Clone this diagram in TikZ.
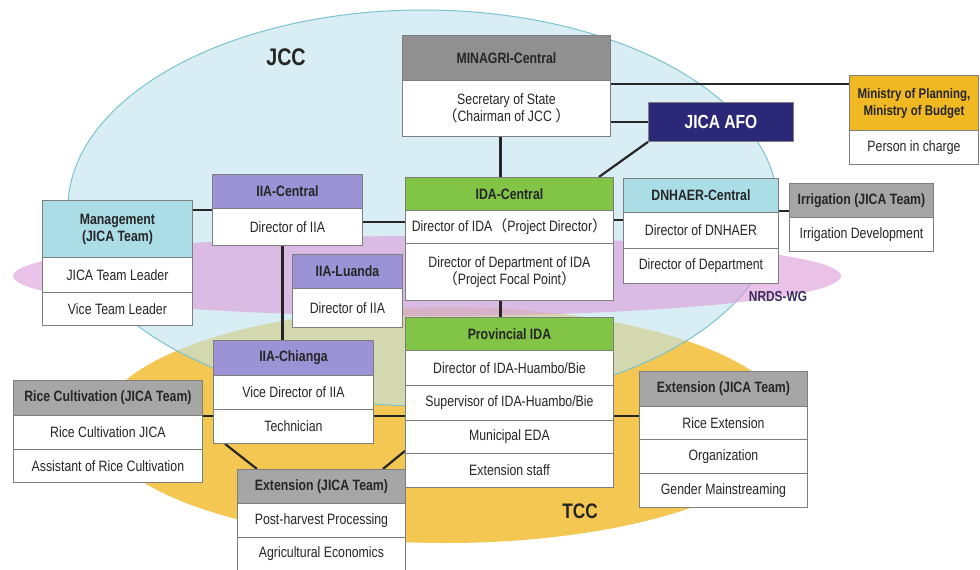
\documentclass[tikz,border=0pt]{standalone}
\usepackage{fontspec}
\setmainfont{Liberation Sans}
\newfontfamily\nf{Liberation Sans}[FakeStretch=0.82]
\newfontfamily\cjk{Noto Sans CJK SC}
\newcommand\fw[1]{{\cjk #1}}
\usetikzlibrary{calc}
\definecolor{boxline}{HTML}{7E7E7E}
\definecolor{txt}{HTML}{262626}
\definecolor{hgray}{HTML}{A6A6A6}
\definecolor{hdark}{HTML}{909090}
\definecolor{hgreen}{HTML}{82C446}
\definecolor{hpurple}{HTML}{9C92D6}
\definecolor{hcyan}{HTML}{ABDDE7}
\definecolor{hgold}{HTML}{F0B823}
\definecolor{navy}{HTML}{2B2878}
\definecolor{ellblue}{HTML}{BFE4EE}
\definecolor{ellblueedge}{HTML}{7CC3CF}
\definecolor{ellyellow}{HTML}{F3C752}
\definecolor{ellpink}{HTML}{DC9AD8}
\definecolor{conn}{HTML}{262626}
\definecolor{nrds}{HTML}{3A2E5E}
\pgfdeclarelayer{bg}\pgfdeclarelayer{ln}\pgfsetlayers{bg,ln,main}
\newcommand\cel[7]{\node[#2,minimum width=#5pt,minimum height=#6pt] (#1) at (#3,#4) {#7};}
\begin{document}
\begin{tikzpicture}[x=1pt,y=-1pt,
  cell/.style={draw=boxline,line width=0.9pt,fill=white,anchor=north west,inner sep=0pt,align=center,
    font=\nf\fontsize{15}{17}\selectfont,text=txt},
  hdr/.style={cell,font=\nf\bfseries\fontsize{15}{17}\selectfont},
  graybox/.style={hdr,fill=hgray},
  greenbox/.style={hdr,fill=hgreen},
  purplebox/.style={hdr,fill=hpurple},
  cyanbox/.style={hdr,fill=hcyan},
  conline/.style={draw=conn,line width=2.2pt},
  biglabel/.style={font=\nf\bfseries\fontsize{24}{26}\selectfont,text=txt}]
\useasboundingbox (0,0) rectangle (980,570);
\begin{pgfonlayer}{bg}
  \fill[white] (0,0) rectangle (980,570);
  \fill[ellyellow] (445,425) ellipse [x radius=345, y radius=118];
  \path[fill=ellblue,fill opacity=0.6,draw=ellblueedge,line width=1pt] (423,208) ellipse [x radius=355, y radius=198];
  \fill[ellpink,fill opacity=0.6] (427,276) ellipse [x radius=414, y radius=40];
\end{pgfonlayer}
% labels
\node[biglabel] (jcc) at (286,57) {JCC};
\node[biglabel,font=\nf\bfseries\fontsize{21}{23}\selectfont] (tcc) at (580,511) {TCC};
\node[font=\nf\bfseries\fontsize{14.5}{16}\selectfont,text=nrds] (nrdswg) at (778,297) {NRDS-WG};
% MINAGRI
\cel{minH}{hdr,fill=hdark}{402}{35}{208}{45}{MINAGRI-Central}
\cel{minB}{cell}{402}{80}{208}{56}{Secretary of State\\\fw{（}Chairman of JCC \fw{）}}
% JICA AFO
\node[hdr,fill=navy,text=white,font=\nf\bfseries\fontsize{19}{21}\selectfont,minimum width=145pt,minimum height=39pt] (afo) at (648,102) {JICA AFO};
% Ministry
\cel{minsH}{hdr,fill=hgold,font=\nf\bfseries\fontsize{14}{17}\selectfont}{849}{75}{129}{55}{Ministry of Planning,\\Ministry of Budget}
\cel{minsB}{cell}{849}{130}{129}{34}{Person in charge}
% IDA-Central
\cel{idacH}{greenbox}{405}{177}{208}{33}{IDA-Central}
\cel{idac1}{cell}{405}{210}{208}{33}{Director of IDA\fw{（}Project Director\fw{）}}
\cel{idac2}{cell}{405}{243}{208}{57}{Director of Department of IDA\\\fw{（}Project Focal Point\fw{）}}
% DNHAER
\cel{dnhH}{cyanbox}{623}{178}{155}{34}{DNHAER-Central}
\cel{dnh1}{cell}{623}{212}{155}{36}{Director of DNHAER}
\cel{dnh2}{cell}{623}{248}{155}{35}{Director of Department}
% Irrigation
\cel{irrH}{graybox}{789}{183}{144}{34}{Irrigation (JICA Team)}
\cel{irr1}{cell}{789}{217}{144}{34}{Irrigation Development}
% IIA-Central
\cel{iiacH}{purplebox}{212}{174}{150}{34}{IIA-Central}
\cel{iiacB}{cell}{212}{208}{150}{37}{Director of IIA}
% Management
\cel{mgmtH}{cyanbox}{42}{200}{150}{57}{Management\\(JICA Team)}
\cel{mgmt1}{cell}{42}{257}{150}{35}{JICA Team Leader}
\cel{mgmt2}{cell}{42}{292}{150}{33}{Vice Team Leader}
% IIA-Luanda
\cel{luaH}{purplebox}{292}{254}{110}{34}{IIA-Luanda}
\cel{luaB}{cell}{292}{288}{110}{39}{Director of IIA}
% Provincial IDA
\cel{provH}{greenbox}{405}{317}{208}{33}{Provincial IDA}
\cel{prov1}{cell}{405}{350}{208}{35}{Director of IDA-Huambo/Bie}
\cel{prov2}{cell}{405}{385}{208}{35}{Supervisor of IDA-Huambo/Bie}
\cel{prov3}{cell}{405}{420}{208}{33}{Municipal EDA}
\cel{prov4}{cell}{405}{453}{208}{34}{Extension staff}
% IIA-Chianga
\cel{chiH}{purplebox}{213}{340}{160}{35}{IIA-Chianga}
\cel{chi1}{cell}{213}{375}{160}{34}{Vice Director of IIA}
\cel{chi2}{cell}{213}{409}{160}{34}{Technician}
% Rice Cultivation
\cel{riceH}{graybox}{13}{380}{189}{35}{Rice Cultivation (JICA Team)}
\cel{rice1}{cell}{13}{415}{189}{34}{Rice Cultivation JICA}
\cel{rice2}{cell}{13}{449}{189}{33}{Assistant of Rice Cultivation}
% Extension right
\cel{extRH}{graybox}{639}{371}{168}{35}{Extension (JICA Team)}
\cel{extR1}{cell}{639}{406}{168}{33}{Rice Extension}
\cel{extR2}{cell}{639}{439}{168}{34}{Organization}
\cel{extR3}{cell}{639}{473}{168}{34}{Gender Mainstreaming}
% Extension bottom
\cel{extBH}{graybox}{237}{469}{168}{34}{Extension (JICA Team)}
\cel{extB1}{cell}{237}{503}{168}{34}{Post-harvest Processing}
\cel{extB2}{cell}{237}{537}{168}{33}{Agricultural Economics}
% connectors
\begin{pgfonlayer}{ln}
  \draw[conline] ([yshift=-4pt]minB.north east) -- ([yshift=-4pt]minB.north east -| minsH.west);
  \draw[conline] (afo.west) -- (afo.west -| minB.east);
  \draw[conline] ([xshift=-6pt]minB.south) -- ([xshift=-6pt]minB.south |- idacH.north);
  \draw[conline] (afo.south west) -- ([xshift=-15pt]idacH.north east);
  \draw[conline] ([yshift=-7pt]dnhH.south west) -- ([yshift=-7pt]dnhH.south west -| idac1.east);
  \draw[conline] ([yshift=2pt]dnhH.south east) -- ([yshift=2pt]dnhH.south east -| irrH.west);
  \draw[conline] ([yshift=-1pt]iiacH.south west) -- ([yshift=-1pt]iiacH.south west -| mgmtH.east);
  \draw[conline] ([yshift=5pt]iiacB.east) -- ([yshift=5pt]iiacB.east -| idac1.west);
  \draw[conline] ([xshift=-5pt]iiacB.south) -- ([xshift=-5pt]iiacB.south |- chiH.north);
  \draw[conline] ([xshift=-9pt]idac2.south) -- ([xshift=-9pt]idac2.south |- provH.north);
  \draw[conline] (riceH.south east) -- (riceH.south east -| extRH.west);
  \draw[conline] ([xshift=12pt]chi2.south west) -- ([xshift=20pt]extBH.north west);
  \draw[conline] ([yshift=3pt]prov3.south west) -- ([xshift=-23pt]extBH.north east);
\end{pgfonlayer}
\end{tikzpicture}
\end{document}
